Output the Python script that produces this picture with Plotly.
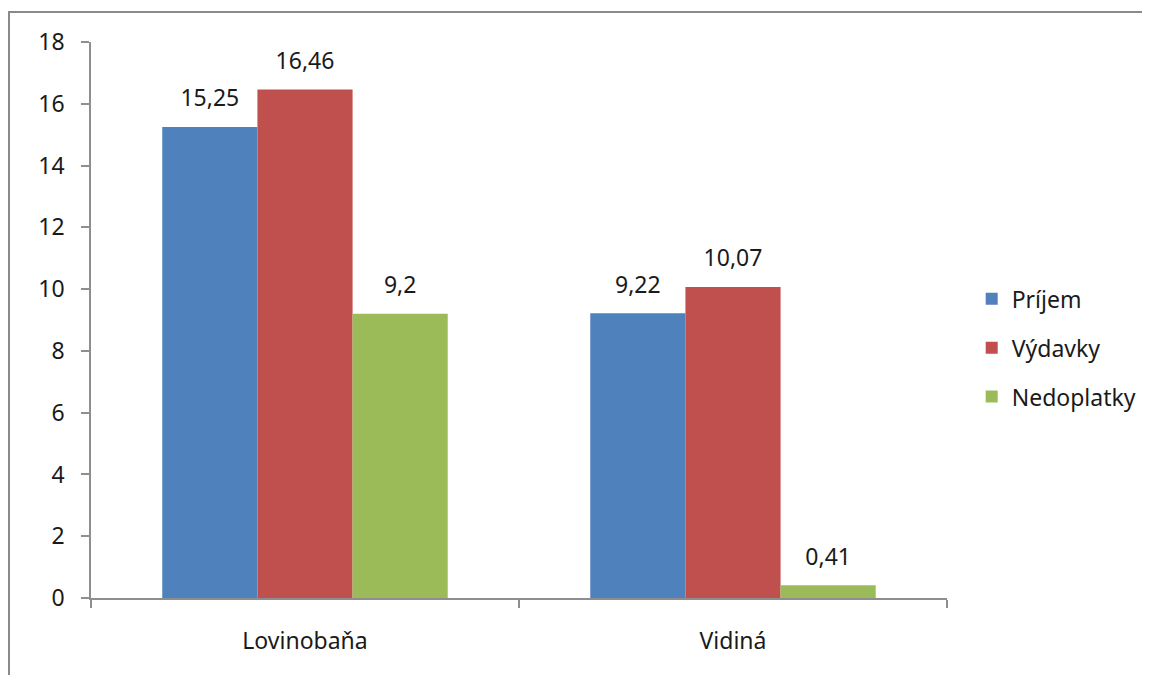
import plotly.graph_objects as go

categories = ["Lovinobaňa", "Vidiná"]
series_names = ["Príjem", "Výdavky", "Nedoplatky"]
prijem = [15.25, 9.22]
vydavky = [16.46, 10.07]
nedoplatky = [9.2, 0.41]
colors = ["#4F81BD", "#C0504D", "#9BBB59"]


def fmt(v):
    # slovak decimal comma
    return f"{v:g}".replace(".", ",")


fig = go.Figure()
for name, vals, col in zip(series_names, [prijem, vydavky, nedoplatky], colors):
    fig.add_trace(go.Bar(
        x=categories,
        y=vals,
        name=name,
        legendgroup=name,
        offsetgroup=name,
        marker=dict(color=col, line=dict(width=0)),
    ))
# value labels, lifted a bit above bars like the original
for name, vals in zip(series_names, [prijem, vydavky, nedoplatky]):
    fig.add_trace(go.Scatter(
        x=categories,
        y=vals,
        offsetgroup=name,
        mode="markers+text",
        marker=dict(size=22, opacity=0),
        text=[fmt(v) for v in vals],
        textposition="top center",
        textfont=dict(size=23, color="#1a1a1a"),
        showlegend=False,
        hoverinfo="skip",
        cliponaxis=False,
    ))

fig.update_layout(
    width=1150,
    height=675,
    margin=dict(l=83, r=211, t=34, b=85, autoexpand=False),
    paper_bgcolor="white",
    plot_bgcolor="white",
    font=dict(family="Noto Sans, DejaVu Sans, sans-serif", size=23, color="#1a1a1a"),
    barmode="group",
    scattermode="group",
    bargap=0.333,
    bargroupgap=0,
    showlegend=True,
    legend=dict(
        xref="container", x=0.838, y=0.45, xanchor="left", yanchor="middle",
        font=dict(size=23),
        tracegroupgap=16,
        itemwidth=30,
    ),
    shapes=[dict(
        type="rect", xref="paper", yref="paper",
        x0=-0.0958, x1=2, y0=-1, y1=1.054,
        line=dict(color="#8a8a8a", width=2),
        layer="below",
    )],
)

fig.update_xaxes(
    showline=True, linecolor="#8e8e8e", linewidth=1.5,
    ticks="outside", tickson="boundaries", ticklen=8, tickcolor="#8e8e8e",
    tickwidth=1.5, showgrid=False, ticklabelstandoff=22,
)
fig.update_yaxes(
    range=[0, 18], dtick=2, showline=True, linecolor="#8e8e8e", linewidth=1.5,
    ticks="outside", ticklen=8, tickcolor="#8e8e8e", tickwidth=1.5,
    showgrid=False, zeroline=False, ticklabelstandoff=12,
)

fig.write_html("out.html")
